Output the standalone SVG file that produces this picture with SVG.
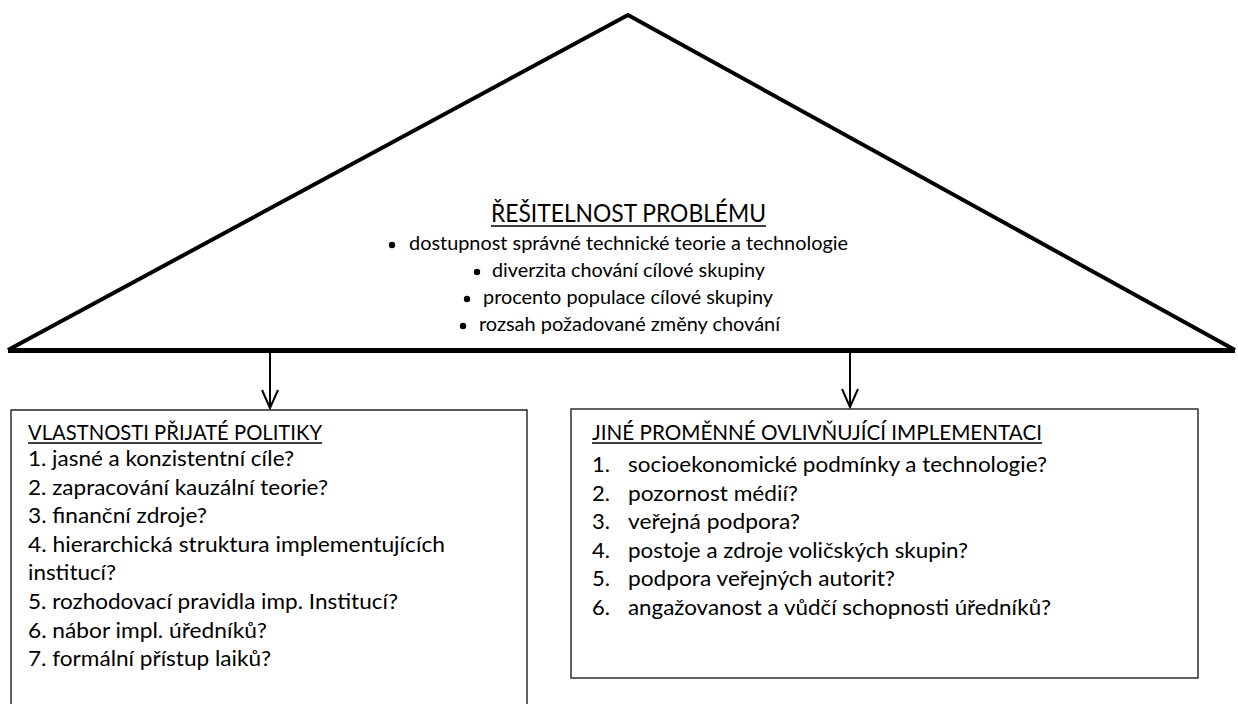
<svg xmlns="http://www.w3.org/2000/svg" width="1238" height="704" viewBox="0 0 1238 704">
<style>
.t{font-family:Lato,"Liberation Sans",sans-serif;fill:#000}
.b{font-size:22px}
.s{font-size:19.6px}
.h{font-size:24.5px}
.box{fill:#fff;stroke:#222;stroke-width:1.4}
.ul{stroke:#000;stroke-width:1.5}
.con{stroke:#000;stroke-width:2;fill:none}
</style>
<defs>
<marker id="v" viewBox="0 0 20 20" refX="10" refY="19" markerWidth="20" markerHeight="20" markerUnits="userSpaceOnUse" orient="auto-start-reverse">
</marker>
</defs>
<rect width="1238" height="704" fill="#fff"/>
<g id="triangle">
<path d="M628 15 L1235 350 L8 350 Z" fill="#fff" stroke="none"/>
<path d="M8 350 L628 15 L1235 350" fill="none" stroke="#000" stroke-width="4" stroke-linejoin="miter"/>
<line x1="8" y1="350.5" x2="1235" y2="350.5" stroke="#000" stroke-width="5"/>
<text class="t h" x="491" y="222" textLength="275" lengthAdjust="spacingAndGlyphs">ŘEŠITELNOST PROBLÉMU</text>
<line class="ul" x1="491" y1="226" x2="766" y2="226"/>
<circle cx="392" cy="245" r="3.2"/>
<text class="t s" x="409" y="250" textLength="439" lengthAdjust="spacingAndGlyphs">dostupnost správné technické teorie a technologie</text>
<circle cx="477" cy="272" r="3.2"/>
<text class="t s" x="492" y="277" textLength="273" lengthAdjust="spacingAndGlyphs">diverzita chování cílové skupiny</text>
<circle cx="467" cy="299" r="3.2"/>
<text class="t s" x="483" y="304" textLength="290" lengthAdjust="spacingAndGlyphs">procento populace cílové skupiny</text>
<circle cx="463" cy="326" r="3.2"/>
<text class="t s" x="479" y="331" textLength="301" lengthAdjust="spacingAndGlyphs">rozsah požadované změny chování</text>
</g>
<g id="connectors">
<line class="con" x1="270" y1="353" x2="270" y2="408"/>
<polyline class="con" points="262,390 270,408 278,390"/>
<line class="con" x1="850" y1="353" x2="850" y2="407"/>
<polyline class="con" points="842,389 850,407 858,389"/>
</g>
<g id="policy-box">
<path class="box" d="M11 706 L11 410 L527 410 L527 706"/>
<text class="t b" x="28" y="440" textLength="294" lengthAdjust="spacingAndGlyphs">VLASTNOSTI PŘIJATÉ POLITIKY</text>
<line class="ul" x1="28" y1="443" x2="322" y2="443"/>
<text class="t b" x="28" y="466" textLength="266" lengthAdjust="spacingAndGlyphs">1. jasné a konzistentní cíle?</text>
<text class="t b" x="28" y="494.6" textLength="300" lengthAdjust="spacingAndGlyphs">2. zapracování kauzální teorie?</text>
<text class="t b" x="28" y="523.2" textLength="179" lengthAdjust="spacingAndGlyphs">3. finanční zdroje?</text>
<text class="t b" x="28" y="551.8" textLength="417" lengthAdjust="spacingAndGlyphs">4. hierarchická struktura implementujících</text>
<text class="t b" x="28" y="580.4" textLength="88" lengthAdjust="spacingAndGlyphs">institucí?</text>
<text class="t b" x="28" y="609" textLength="370" lengthAdjust="spacingAndGlyphs">5. rozhodovací pravidla imp. Institucí?</text>
<text class="t b" x="28" y="637.6" textLength="239" lengthAdjust="spacingAndGlyphs">6. nábor impl. úředníků?</text>
<text class="t b" x="28" y="666.2" textLength="243" lengthAdjust="spacingAndGlyphs">7. formální přístup laiků?</text>
</g>
<g id="other-box">
<rect class="box" x="571" y="409" width="627" height="269"/>
<text class="t b" x="592" y="440" textLength="450" lengthAdjust="spacingAndGlyphs">JINÉ PROMĚNNÉ OVLIVŇUJÍCÍ IMPLEMENTACI</text>
<line class="ul" x1="592" y1="443" x2="1042" y2="443"/>
<text class="t b" x="592" y="472">1.</text><text class="t b" x="628" y="472" textLength="419" lengthAdjust="spacingAndGlyphs">socioekonomické podmínky a technologie?</text>
<text class="t b" x="592" y="500.6">2.</text><text class="t b" x="628" y="500.6" textLength="170" lengthAdjust="spacingAndGlyphs">pozornost médií?</text>
<text class="t b" x="592" y="529.2">3.</text><text class="t b" x="628" y="529.2" textLength="172" lengthAdjust="spacingAndGlyphs">veřejná podpora?</text>
<text class="t b" x="592" y="557.8">4.</text><text class="t b" x="628" y="557.8" textLength="340" lengthAdjust="spacingAndGlyphs">postoje a zdroje voličských skupin?</text>
<text class="t b" x="592" y="586.4">5.</text><text class="t b" x="628" y="586.4" textLength="267" lengthAdjust="spacingAndGlyphs">podpora veřejných autorit?</text>
<text class="t b" x="592" y="615">6.</text><text class="t b" x="628" y="615" textLength="423" lengthAdjust="spacingAndGlyphs">angažovanost a vůdčí schopnosti úředníků?</text>
</g>
</svg>
